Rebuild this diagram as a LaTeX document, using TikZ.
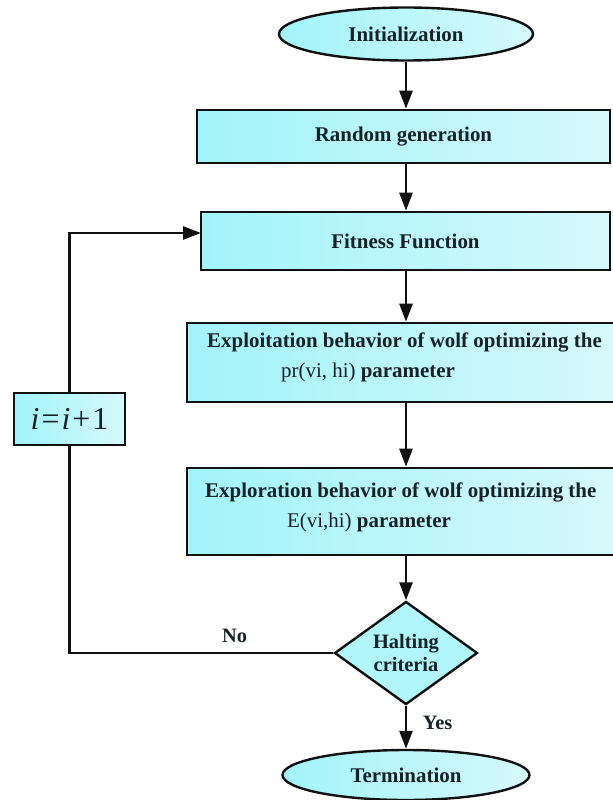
\documentclass[tikz,border=0pt]{standalone}
\usepackage{fontspec}
\setmainfont{Liberation Serif}
\usetikzlibrary{shapes.geometric,arrows.meta}
\definecolor{cyanA}{RGB}{162,244,250}
\definecolor{cyanB}{RGB}{214,249,251}
\definecolor{ink}{RGB}{22,34,38}
\definecolor{edge}{RGB}{17,17,17}
\begin{document}
\begin{tikzpicture}[x=1bp,y=-1bp,
  every node/.style={text=ink},
  box/.style={rectangle,draw=edge,line width=2.6bp,left color=cyanA,right color=cyanB,inner sep=0pt},
  oval/.style={ellipse,draw=edge,line width=2.4bp,left color=cyanA,right color=cyanB,inner sep=0pt},
  choice/.style={diamond,draw=edge,line width=2.4bp,fill=cyanA!85!white,inner sep=0pt,align=center},
  bigtext/.style={font=\fontsize{21}{30}\selectfont\bfseries},
  smalltext/.style={font=\fontsize{20.5}{23}\selectfont\bfseries},
  flow/.style={draw=edge,line width=2.6bp,-{Triangle[length=18bp,width=13bp]}},
  plain/.style={draw=edge,line width=2.6bp}
]
\useasboundingbox (0,0) rectangle (613,800);

% main column
\node[oval,minimum width=254bp,minimum height=53bp,bigtext] (init) at (406,34) {Initialization};
\node[box,minimum width=413bp,minimum height=53bp,bigtext] (rand) at (403.5,136.5) {Random generation};
\node[box,minimum width=409bp,minimum height=58bp,bigtext] (fit) at (405.5,241) {Fitness Function};
\node[box,minimum width=429bp,minimum height=79bp] (exploit) at (401.5,362.5) {};
\node[box,minimum width=429bp,minimum height=87bp] (explore) at (401.5,511.5) {};
\node[choice,minimum width=143bp,minimum height=101bp,smalltext] (halt) at (406,653) {Halting\\criteria};
\node[oval,minimum width=247bp,minimum height=50bp,bigtext] (term) at (406,775) {Termination};

% two-line captions of the wide boxes
\node[bigtext,anchor=base west,inner sep=0pt] (exploitA) at (207,347) {Exploitation behavior of wolf optimizing the};
\node[bigtext,anchor=base west,inner sep=0pt] (exploitB) at (281,377) {{\mdseries pr(vi, hi)} parameter};
\node[bigtext,anchor=base west,inner sep=0pt] (exploreA) at (205,497) {Exploration behavior of wolf optimizing the};
\node[bigtext,anchor=base west,inner sep=0pt] (exploreB) at (287,527) {{\mdseries E(vi,hi)} parameter};

% loop counter
\node[box,minimum width=111bp,minimum height=52bp,
      font=\fontsize{32}{32}\selectfont] (inc) at (69.5,419)
      {\textit{i}\kern2pt=\kern2pt\textit{i}\kern2pt+\kern2pt1};
\coordinate (fitin) at (201,233);

% connectors
\draw[flow] (init.south) -- (init.south |- rand.north);
\draw[flow] (init.south |- rand.south) -- (init.south |- fit.north);
\draw[flow] (init.south |- fit.south) -- (init.south |- exploit.north);
\draw[flow] (init.south |- exploit.south) -- (init.south |- explore.north);
\draw[flow] (init.south |- explore.south) -- (halt.north);
\draw[flow] (halt.south) -- (term.north);
\draw[plain] (halt.west) -| (inc.south);
\draw[flow] (inc.north) |- (fitin);

% branch labels
\node[smalltext] (nolabel) at (234.5,636) {No};
\node[smalltext] (yeslabel) at (437.5,723) {Yes};
\end{tikzpicture}
\end{document}
